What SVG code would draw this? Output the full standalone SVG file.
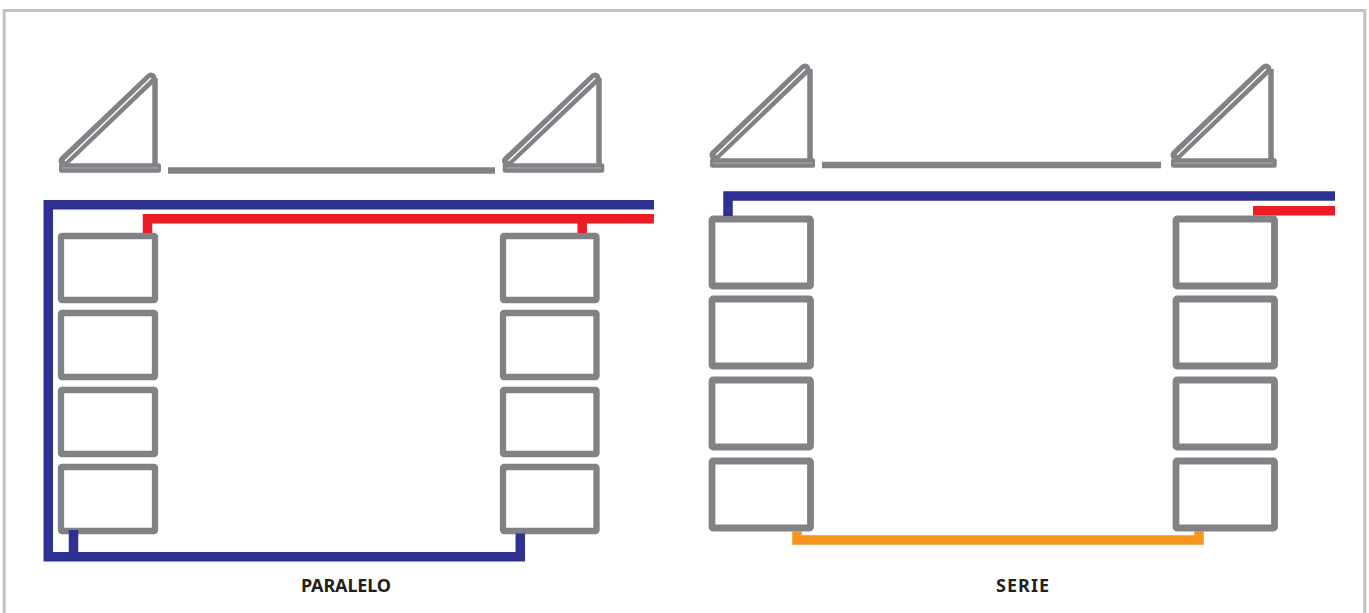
<svg xmlns="http://www.w3.org/2000/svg" width="1369" height="613" viewBox="0 0 1369 613">
<style>
.frame{fill:none;stroke:#c2c2c6;stroke-width:3}
.panel{fill:#fff;stroke:#818285;stroke-width:6.300;stroke-linejoin:round}
.wide{stroke-width:6.800}
.beam{stroke:#818285;stroke-width:11;stroke-linecap:round;fill:none}
.gap{stroke:#fff;stroke-width:1.500;fill:none}
.post{stroke:#818285;stroke-width:5.500;fill:none}
.base{fill:#818285}
.seam{stroke:#aeaeb2;stroke-width:1;fill:none}
.ground{stroke:#818285;stroke-width:6.500;fill:none}
.pipe{fill:none;stroke-width:9.500;stroke-linejoin:miter}
.blue{stroke:#2e3192}.red{stroke:#ed1c24}.orange{stroke:#f7941d}
text{font-family:"Noto Sans","Liberation Sans",sans-serif;font-weight:700;font-size:18px;fill:#231f20;text-anchor:middle}
</style>
<path class="frame" d="M4.200 613V10.500H1364.800V613"/>
<g id="collector-p1">
<path class="beam" d="M64 161L151 78"/><path class="gap" d="M65 161L151 78"/>
<path class="post" d="M155 78V166"/>
<rect class="base" x="59" y="163.300" width="102" height="9.500" rx="2.500"/><path class="seam" d="M62 168H158"/>
</g>
<g id="collector-p2">
<path class="beam" d="M507.500 161L595 78"/><path class="gap" d="M508.500 161L595 78"/>
<path class="post" d="M599 78V166"/>
<rect class="base" x="502.700" y="163.300" width="101.600" height="9.500" rx="2.500"/><path class="seam" d="M506 168H601"/>
</g>
<g id="ground-p"><path class="ground" d="M168 170.500H495"/></g>
<g id="collector-s1">
<path class="beam" d="M715 155L805 69"/><path class="gap" d="M716 155L805 69"/>
<path class="post" d="M810 69V161"/>
<rect class="base" x="710" y="158.300" width="105" height="9.500" rx="2.500"/><path class="seam" d="M713 163H812"/>
</g>
<g id="collector-s2">
<path class="beam" d="M1176 155L1266 69"/><path class="gap" d="M1177 155L1266 69"/>
<path class="post" d="M1271 69V161"/>
<rect class="base" x="1171" y="158.300" width="105.700" height="9.500" rx="2.500"/><path class="seam" d="M1174 163H1273"/>
</g>
<g id="ground-s"><path class="ground" d="M822 165H1161"/></g>
<g id="panels-paralelo-left">
<rect class="panel" x="61" y="236" width="94" height="64" rx="1"/>
<rect class="panel" x="61" y="313" width="94" height="64" rx="1"/>
<rect class="panel" x="61" y="390" width="94" height="64" rx="1"/>
<rect class="panel" x="61" y="467" width="94" height="64" rx="1"/>
</g>
<g id="panels-paralelo-right">
<rect class="panel" x="503" y="236" width="93.500" height="64" rx="1"/>
<rect class="panel" x="503" y="313" width="93.500" height="64" rx="1"/>
<rect class="panel" x="503" y="390" width="93.500" height="64" rx="1"/>
<rect class="panel" x="503" y="467" width="93.500" height="64" rx="1"/>
</g>
<g id="panels-serie-left">
<rect class="panel wide" x="712" y="219" width="98.500" height="67" rx="1"/>
<rect class="panel wide" x="712" y="299" width="98.500" height="67" rx="1"/>
<rect class="panel wide" x="712" y="380" width="98.500" height="67" rx="1"/>
<rect class="panel wide" x="712" y="461" width="98.500" height="67" rx="1"/>
</g>
<g id="panels-serie-right">
<rect class="panel wide" x="1176" y="219" width="98.500" height="67" rx="1"/>
<rect class="panel wide" x="1176" y="299" width="98.500" height="67" rx="1"/>
<rect class="panel wide" x="1176" y="380" width="98.500" height="67" rx="1"/>
<rect class="panel wide" x="1176" y="461" width="98.500" height="67" rx="1"/>
</g>
<g id="connectors">
<path class="pipe blue" d="M654 204.700H48.300V556.700H520.300V533.500"/>
<path class="pipe blue" d="M73.500 530V556.700"/>
<path class="pipe red" d="M654 218.700H147.500V233"/>
<path class="pipe red" d="M582.200 218.700V233"/>
<path class="pipe blue" d="M1335 196H728V216"/>
<path class="pipe red" d="M1253 210.700H1335"/>
<path class="pipe orange" d="M797 531V540H1199V531"/>
</g>
<g id="label-paralelo"><text x="346" y="592" textLength="90" lengthAdjust="spacing">PARALELO</text></g>
<g id="label-serie"><text x="1022.500" y="592" textLength="53" lengthAdjust="spacing">SERIE</text></g>
</svg>
